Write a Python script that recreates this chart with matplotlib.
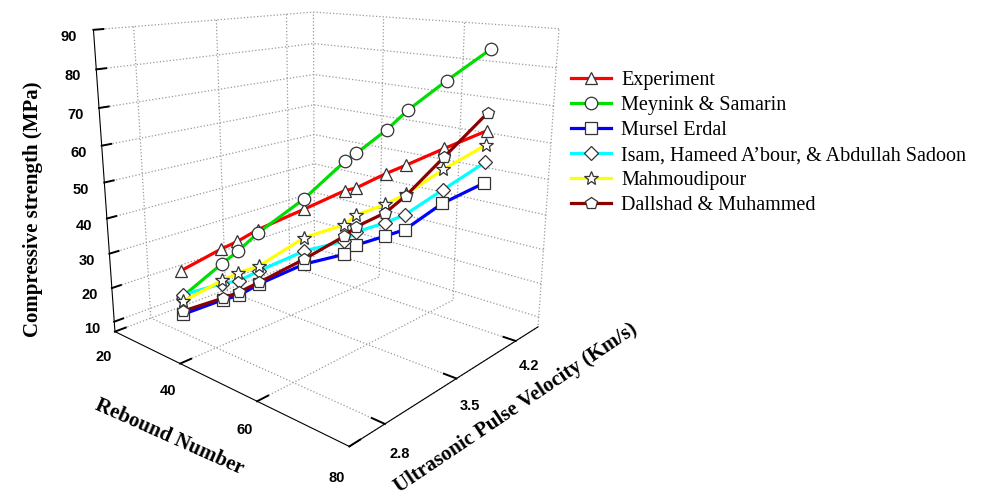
import matplotlib
matplotlib.use('Agg')
import matplotlib.pyplot as plt

plt.rcParams['grid.color'] = '#9a9a9a'
plt.rcParams['grid.linestyle'] = ':'
plt.rcParams['grid.linewidth'] = 0.9

# experimental points (rebound number, UPV km/s)
rebound = [24, 30, 32, 35, 41, 47, 49, 53, 56, 61, 67]
upv = [2.98, 3.17, 3.26, 3.36, 3.6, 3.79, 3.83, 3.98, 4.07, 4.26, 4.45]

# compressive strength (MPa)
experiment = [21, 27.5, 29.5, 33, 38.5, 44, 45, 49, 51.5, 56, 61]
meynink = [13, 23, 26.5, 32, 41.5, 52.5, 55, 61.5, 67, 75, 83.5]
erdal = [7.5, 12, 13, 16.5, 22, 25, 28, 30.5, 32.5, 40, 46]
isam = [13.5, 17, 17.5, 20.5, 26, 29, 32, 34.5, 37, 44, 52]
mahmoudipour = [11.5, 18, 20, 22, 30, 34, 37, 40, 43, 50, 57]
dallshad = [8.5, 12.5, 14, 17, 23.5, 30.5, 33.5, 37.5, 42.5, 53.5, 66]

labels = ['Experiment', 'Meynink & Samarin', 'Mursel Erdal',
          'Isam, Hameed A\u2019bour, & Abdullah Sadoon', 'Mahmoudipour',
          'Dallshad & Muhammed']
values = [experiment, meynink, erdal, isam, mahmoudipour, dallshad]
colors = ['#ff0000', '#00dd00', '#0000ff', '#00ffff', '#ffff00', '#8b0000']
markers = ['^', 'o', 's', 'D', '*', 'p']
msizes = [9, 9, 8, 7, 10, 9]

fig = plt.figure(figsize=(9.87, 4.96), dpi=100)
ax = fig.add_axes([-0.046, 0.008, 0.74, 1.2], projection='3d',
                  proj_type='persp', focal_length=0.27)
ax.computed_zorder = False
ax.view_init(elev=15.5, azim=-48)
ax.set_box_aspect((1, 0.95, 0.966), zoom=0.883)

for lab, v, c, m, s in zip(labels, values, colors, markers, msizes):
    ax.plot(rebound, upv, v, color=c, lw=2.3, marker=m, ms=s,
            mfc='white', mec='#333333', mew=0.9, label=lab)

ax.set_xlim(20, 80)
ax.set_ylim(2.5, 4.5)
ax.set_zlim(7, 90)

tickfont = dict(family='Liberation Sans', fontweight='bold', fontsize=10.5)
ax.set_xticks([20, 40, 60, 80], ['20', '40', '60', '80'], **tickfont)
ax.set_yticks([2.8, 3.5, 4.2], ['2.8', '3.5', '4.2'], **tickfont)
ax.set_zticks(range(10, 91, 10), [str(t) for t in range(10, 91, 10)], **tickfont)
ax.tick_params(axis='x', pad=3)
ax.tick_params(axis='y', pad=3)

# ticks pointing outward in the floor plane, like the original
ax.xaxis.set_ticks_position('lower')
ax.yaxis.set_ticks_position('lower')
ax.zaxis.set_ticks_position('lower')

for axis, out in ((ax.xaxis, 0.55), (ax.yaxis, 0.55), (ax.zaxis, 0.45)):
    axis.set_pane_color((1, 1, 1, 0))
    axis.pane.set_edgecolor('#555555')
    axis.pane.set_linewidth(0.8)
    axis._axinfo['tick']['inward_factor'] = 0.0
    axis._axinfo['tick']['outward_factor'] = out
    axis._axinfo['tick']['linewidth'] = {True: 1.4, False: 1.0}
    axis._axinfo['tick']['color'] = 'black'
    axis._axinfo['axisline']['color'] = 'black'
    axis._axinfo['axisline']['linewidth'] = 1.4

# axis titles placed by hand
labfont = dict(family='Liberation Serif', fontweight='bold', fontsize=15,
               ha='center', va='center', rotation_mode='anchor')
fig.text(0.033, 0.579, 'Compressive strength (MPa)', rotation=90, **labfont)
fig.text(0.172, 0.118, 'Rebound Number', rotation=-24, **labfont)
fig.text(0.523, 0.178, 'Ultrasonic Pulse Velocity (Km/s)', rotation=34, **labfont)

ax.legend(loc='upper left', bbox_to_anchor=(0.56, 0.894),
          bbox_transform=fig.transFigure, frameon=False,
          prop={'family': 'Liberation Serif', 'size': 14.5},
          handlelength=2.0, labelspacing=0.3, handletextpad=0.5)

fig.savefig('out.png', dpi=100)
